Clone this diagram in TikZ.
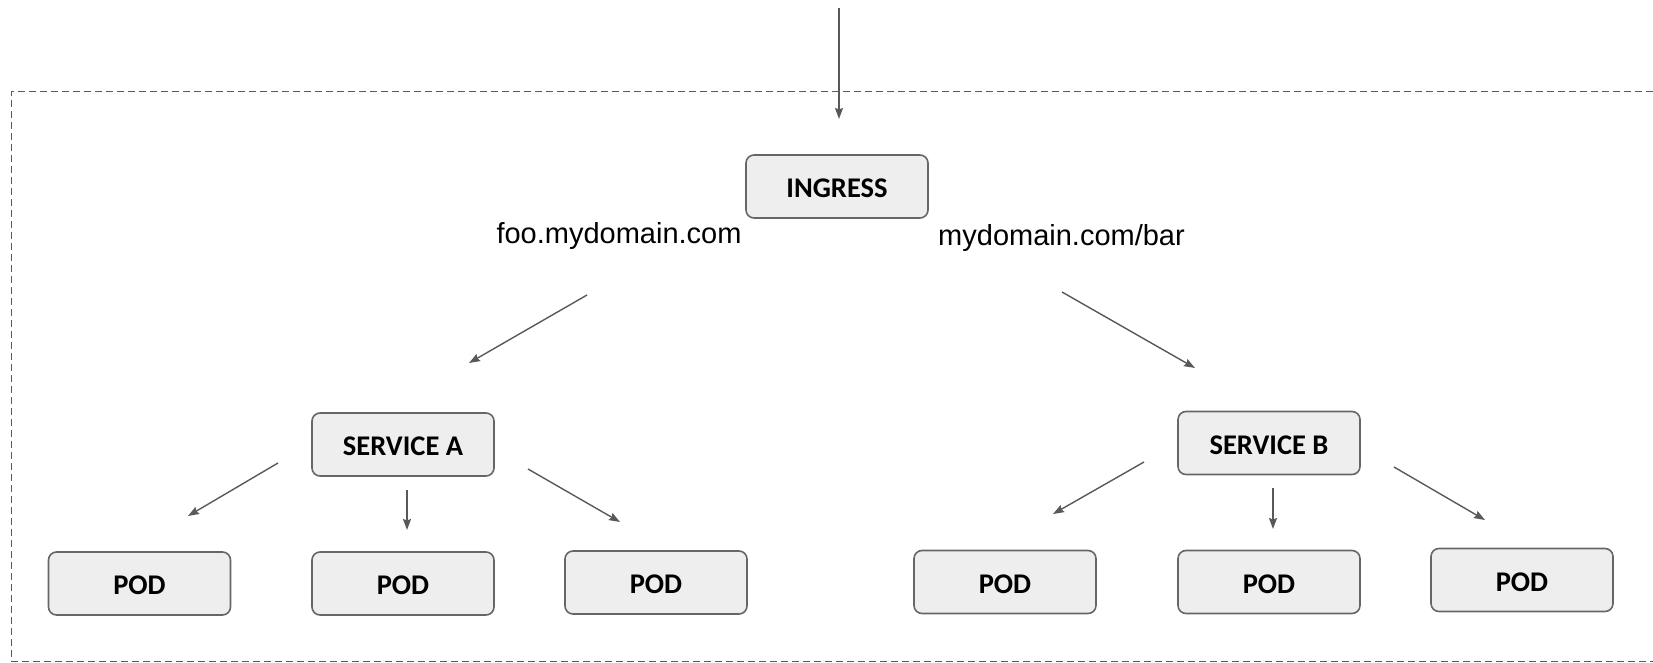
\documentclass[tikz,border=0pt]{standalone}
\usepackage{fontspec}
\setmainfont{Liberation Sans}
\newfontfamily\boxfont{Carlito}
\usetikzlibrary{arrows.meta}
\definecolor{linegray}{HTML}{595959}
\definecolor{boxfill}{HTML}{EEEEEE}
\definecolor{boxline}{HTML}{666666}
\tikzset{
  unitbox/.style={draw=boxline, fill=boxfill, line width=1.6pt, rounded corners=8pt,
    minimum width=182pt, minimum height=63pt, inner sep=0pt,
    text height=22.5pt, text depth=0pt,
    font=\boxfont\bfseries\fontsize{28.5}{32}\selectfont},
  routelabel/.style={inner sep=0pt, font=\fontsize{29}{33}\selectfont},
  flow/.style={draw=linegray, line width=1.4pt, -{Stealth[length=11pt,width=8pt,inset=1.5pt]}},
  cluster/.style={draw=linegray, line width=1.3pt, dash pattern=on 7pt off 4pt}
}
\begin{document}
\begin{tikzpicture}[x=1pt,y=-1pt]
\useasboundingbox (0,0) rectangle (1653,663);

% cluster boundary (open on the right)
\draw[cluster] (1653,91.5) -- (11.5,91.5) -- (11.5,661.5) -- (1653,661.5);

% nodes
\node[unitbox] (ingress) at (837,186.5) {INGRESS};
\node[unitbox] (svcA) at (403,444.5) {SERVICE A};
\node[unitbox] (svcB) at (1269,443) {SERVICE B};
\node[unitbox] (podA1) at (139.5,583.5) {POD};
\node[unitbox] (podA2) at (403,583.5) {POD};
\node[unitbox] (podA3) at (656,582.5) {POD};
\node[unitbox] (podB1) at (1005,582) {POD};
\node[unitbox] (podB2) at (1269,582) {POD};
\node[unitbox] (podB3) at (1522,580) {POD};

% route labels
\node[routelabel] (hostA) at (619,236) {foo.mydomain.com};
\node[routelabel] (pathB) at (1061.5,238) {mydomain.com/bar};

% arrow end points
\coordinate (inS) at (839,8);
\coordinate (inE) at (839,119);
\coordinate (rAs) at (587,295);
\coordinate (rAe) at (469,363);
\coordinate (rBs) at (1062,292);
\coordinate (rBe) at (1195,368);
\coordinate (a1s) at (278,463);
\coordinate (a1e) at (188,516);
\coordinate (a2s) at (407,490);
\coordinate (a2e) at (407,530);
\coordinate (a3s) at (528,469);
\coordinate (a3e) at (620,522);
\coordinate (b1s) at (1144,462);
\coordinate (b1e) at (1053,514);
\coordinate (b2s) at (1273,488);
\coordinate (b2e) at (1273,529);
\coordinate (b3s) at (1394,467);
\coordinate (b3e) at (1485,520);

% connectors
\draw[flow] (inS) -- (inE);
\draw[flow] (rAs) -- (rAe);
\draw[flow] (rBs) -- (rBe);
\draw[flow] (a1s) -- (a1e);
\draw[flow] (a2s) -- (a2e);
\draw[flow] (a3s) -- (a3e);
\draw[flow] (b1s) -- (b1e);
\draw[flow] (b2s) -- (b2e);
\draw[flow] (b3s) -- (b3e);
\end{tikzpicture}
\end{document}
